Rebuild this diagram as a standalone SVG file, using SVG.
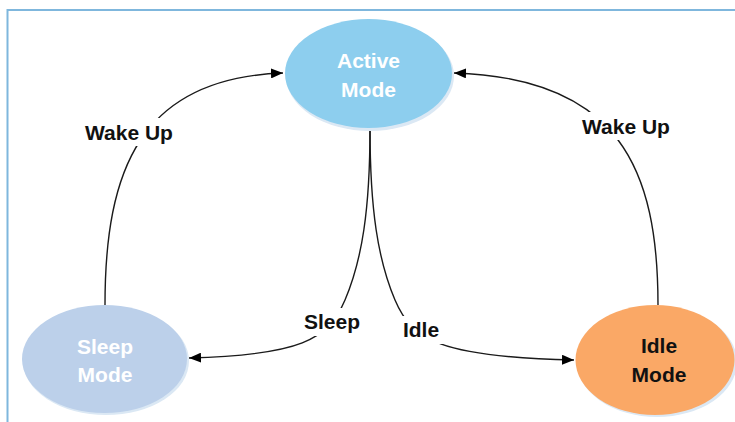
<svg xmlns="http://www.w3.org/2000/svg" width="735" height="422" viewBox="0 0 735 422">
<defs>
<marker id="arr" viewBox="0 0 12 10" refX="12" refY="5" markerWidth="12" markerHeight="10" markerUnits="userSpaceOnUse" orient="auto">
<path d="M0,0 L12,5 L0,10 Z" fill="#000"/>
</marker>
</defs>
<style>
.edge{fill:none;stroke:#1a1a1a;stroke-width:1.4}
.nt{font-family:"Liberation Sans",Arial,sans-serif;font-weight:bold;font-size:21px;text-anchor:middle}
.lbl{font-family:"Liberation Sans",Arial,sans-serif;font-weight:bold;font-size:21px;text-anchor:middle;fill:#111}
.shadow{fill:#dbe8f4}
</style>
<rect x="0" y="0" width="735" height="422" fill="#fff"/>
<path d="M7.5,422 L7.5,10 L735,10" fill="none" stroke="#7fb7dd" stroke-width="2"/>
<g id="connectors">
<path class="edge" d="M105,305 C105,170 140,78 283,73" marker-end="url(#arr)"/>
<path class="edge" d="M658,305 C658,170 620,78 454,73" marker-end="url(#arr)"/>
<path class="edge" d="M370,128 C370,210 362,260 345,300 S 300,355 189,358" marker-end="url(#arr)"/>
<path class="edge" d="M370,128 C370,210 378,260 395,300 S 440,357 574,360" marker-end="url(#arr)"/>
<rect x="80" y="118" width="98" height="28" fill="#fff"/>
<text class="lbl" x="129" y="140">Wake Up</text>
<rect x="576" y="112" width="98" height="28" fill="#fff"/>
<text class="lbl" x="626" y="134">Wake Up</text>
<rect x="300" y="308" width="64" height="28" fill="#fff"/>
<text class="lbl" x="332" y="329">Sleep</text>
<rect x="398" y="316" width="46" height="28" fill="#fff"/>
<text class="lbl" x="421" y="337">Idle</text>
</g>
<g id="active">
<ellipse class="shadow" cx="370" cy="76" rx="84" ry="55"/>
<ellipse cx="368.5" cy="73.5" rx="83.5" ry="54.5" fill="#8dceee"/>
<text class="nt" x="368.5" y="68" fill="#fff">Active</text>
<text class="nt" x="368.5" y="97" fill="#fff">Mode</text>
</g>
<g id="sleep">
<ellipse class="shadow" cx="106" cy="361" rx="83" ry="54"/>
<ellipse cx="104.5" cy="359" rx="82.5" ry="54" fill="#bcd0ea"/>
<text class="nt" x="105" y="354" fill="#fff">Sleep</text>
<text class="nt" x="105" y="382" fill="#fff">Mode</text>
</g>
<g id="idle">
<ellipse class="shadow" cx="657" cy="362" rx="80" ry="55"/>
<ellipse cx="655" cy="360" rx="79.5" ry="55" fill="#faa866"/>
<text class="nt" x="659" y="353" fill="#111">Idle</text>
<text class="nt" x="659" y="382" fill="#111">Mode</text>
</g>
</svg>
